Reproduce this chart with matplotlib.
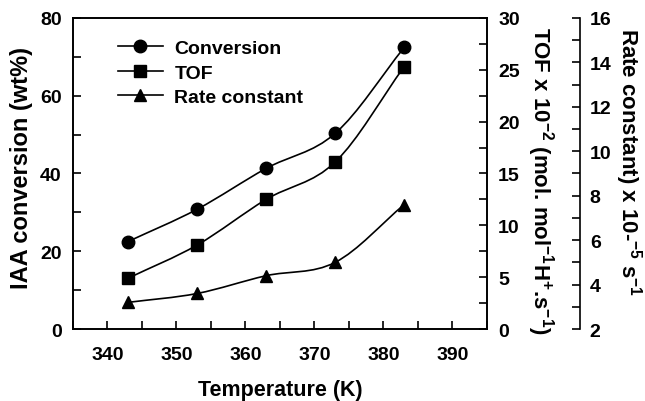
import numpy as np
import matplotlib.pyplot as plt
from matplotlib.path import Path
from matplotlib.patches import PathPatch
from matplotlib.lines import Line2D
from matplotlib.ticker import MultipleLocator

plt.rcParams["font.family"] = ["Liberation Sans", "DejaVu Sans"]
plt.rcParams["font.weight"] = "bold"
plt.rcParams["mathtext.fontset"] = "custom"
plt.rcParams["mathtext.rm"] = "Liberation Sans:bold"
plt.rcParams["mathtext.bf"] = "Liberation Sans:bold"
plt.rcParams["mathtext.default"] = "bf"

temperature = [343, 353, 363, 373, 383]
conversion = [22.5, 30.8, 41.3, 50.3, 72.4]
tof = [4.9, 8.1, 12.5, 16.1, 25.3]
rate_constant = [3.2, 3.6, 4.4, 5.0, 7.6]


def smooth_path(x, y):
    # Catmull-Rom through the points, as cubic Bezier segments
    x = np.asarray(x, float)
    y = np.asarray(y, float)
    pts = np.column_stack([x, y])
    ext = np.vstack([2 * pts[0] - pts[1], pts, 2 * pts[-1] - pts[-2]])
    verts = [pts[0]]
    codes = [Path.MOVETO]
    for i in range(1, len(ext) - 2):
        p0, p1, p2, p3 = ext[i - 1], ext[i], ext[i + 1], ext[i + 2]
        c1 = p1 + (p2 - p0) / 6.0
        c2 = p2 - (p3 - p1) / 6.0
        verts += [c1, c2, p2]
        codes += [Path.CURVE4] * 3
    return Path(verts, codes)


def draw_series(ax, x, y, marker):
    ax.add_patch(PathPatch(smooth_path(x, y), fill=False, lw=1.2, color="black"))
    ax.plot(x, y, linestyle="none", marker=marker, ms=9, color="black")


fig = plt.figure(figsize=(6.45, 4.02), dpi=100)
ax = fig.add_axes([0.113, 0.179, 0.642, 0.774])
ax2 = ax.twinx()
ax3 = ax.twinx()

draw_series(ax, temperature, conversion, "o")
draw_series(ax2, temperature, tof, "s")
draw_series(ax3, temperature, rate_constant, "^")

ax.set_xlim(335, 395)
ax.set_ylim(0, 80)
ax2.set_ylim(0, 30)
ax3.set_ylim(2, 16)

ax.xaxis.set_major_locator(MultipleLocator(10))
ax.xaxis.set_minor_locator(MultipleLocator(5))
ax.yaxis.set_major_locator(MultipleLocator(20))
ax.yaxis.set_minor_locator(MultipleLocator(10))
ax2.yaxis.set_major_locator(MultipleLocator(5))
ax2.yaxis.set_minor_locator(MultipleLocator(2.5))
ax3.yaxis.set_major_locator(MultipleLocator(2))
ax3.yaxis.set_minor_locator(MultipleLocator(1))

ax3.spines["right"].set_position(("axes", 1.225))
ax3.spines["top"].set_visible(False)
ax3.spines["left"].set_visible(False)
ax3.spines["bottom"].set_visible(False)

for a in (ax, ax2, ax3):
    for s in a.spines.values():
        s.set_linewidth(1.2)
    a.tick_params(which="both", direction="in", labelsize=14, width=1.2, length=6)
    for lab in a.get_xticklabels() + a.get_yticklabels():
        lab.set_fontweight("bold")
ax.tick_params(axis="x", which="both", pad=12)
ax.tick_params(axis="y", which="both", pad=8)
ax2.tick_params(axis="y", which="both", pad=8)
ax3.tick_params(axis="y", which="both", pad=7)

ax.set_xlabel("Temperature (K)", fontsize=15.5, fontweight="bold", labelpad=12)
ax.set_ylabel("IAA conversion (wt%)", fontsize=17, fontweight="bold")
ax2.set_ylabel(r"TOF x 10$^{-2}$ (mol. mol$^{-1}$H$^{+}$.s$^{-1}$)",
               fontsize=16, fontweight="bold", rotation=-90, va="center")
ax3.set_ylabel(r"Rate constant) x 10-$^{-5}$ s$^{-1}$",
               fontsize=16, fontweight="bold", rotation=-90, va="center")
ax.yaxis.set_label_coords(-0.097, 0.52)
ax2.yaxis.set_label_coords(1.13, 0.48)
ax3.yaxis.set_label_coords(1.342, 0.54)

handles = [
    Line2D([], [], color="black", lw=1.2, marker="o", ms=9),
    Line2D([], [], color="black", lw=1.2, marker="s", ms=9),
    Line2D([], [], color="black", lw=1.2, marker="^", ms=9),
]
leg = ax.legend(handles, ["Conversion", "TOF", "Rate constant"], loc="upper left",
                bbox_to_anchor=(0.09, 0.955), frameon=False, fontsize=14,
                handlelength=2.3, handletextpad=0.6, labelspacing=0.35,
                borderaxespad=0)
for t in leg.get_texts():
    t.set_fontweight("bold")

fig.savefig("out.png", dpi=100)
